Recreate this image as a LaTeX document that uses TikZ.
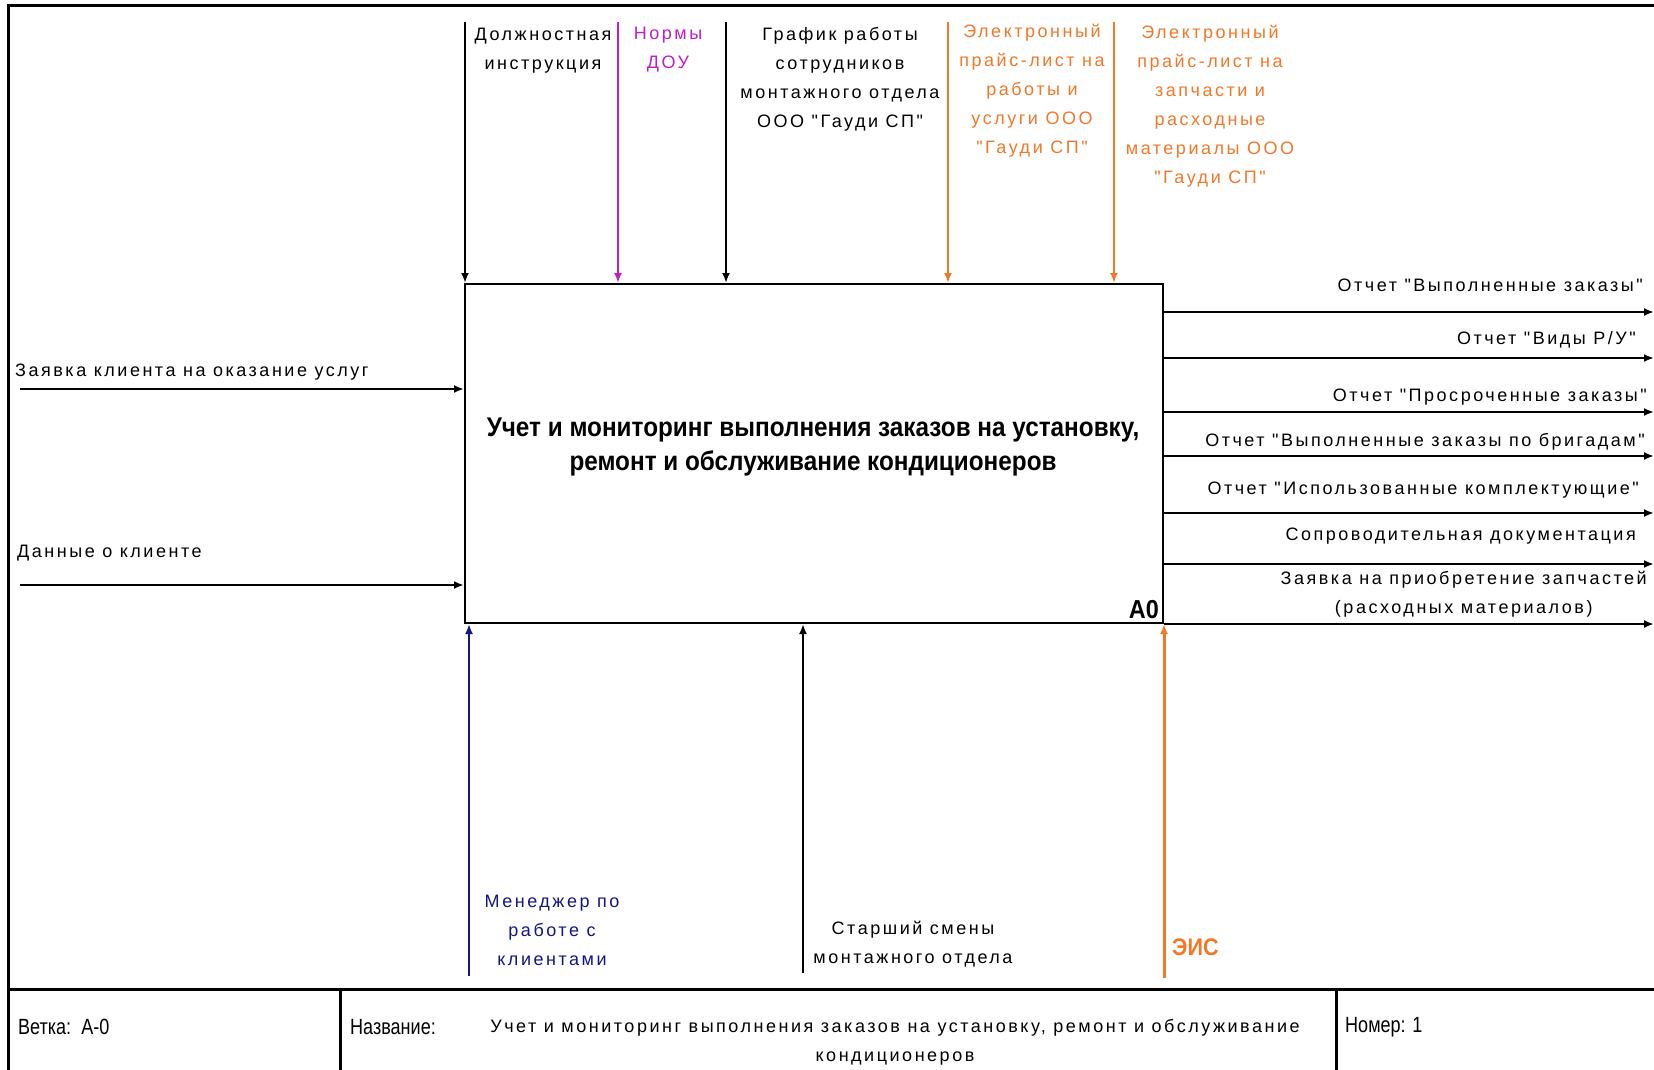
\documentclass[tikz,border=0pt]{standalone}
\usepackage{fontspec}
\setmainfont{Liberation Sans}
\newfontfamily\lblfont[LetterSpace=14]{Liberation Sans}
\newfontfamily\narrowfont[FakeStretch=0.82]{Liberation Sans}
\newfontfamily\ttlfont[FakeStretch=0.9]{Liberation Sans}
\usetikzlibrary{arrows.meta}

\definecolor{idefora}{RGB}{240,120,40}
\definecolor{idefmag}{RGB}{190,30,200}
\definecolor{idefnavy}{RGB}{20,20,130}

\tikzset{
  lbl/.style={font=\lblfont\fontsize{18}{29}\selectfont, align=center, inner sep=0pt},
  narrow/.style={font=\narrowfont\fontsize{22}{24}\selectfont, inner sep=0pt},
  link/.style={line width=2pt, -{Latex[length=10pt,width=8pt]}},
  frame/.style={line width=3pt}
}

\begin{document}
\begin{tikzpicture}[x=1pt, y=-1pt]
            \useasboundingbox (0,0) rectangle (1654,1070);

            %frame
            \draw[frame] (8,1070) -- (8,6) -- (1660,6);
            \draw[frame] (8,989) -- (1660,989);
            \draw[frame] (340,989) -- (340,1070);
            \draw[frame] (1336,989) -- (1336,1070);

            %box
            \node[draw, line width=2pt, minimum width=698pt, minimum height=339pt, inner sep=0pt] (a0) at (814,453.5) {};
            \node[font=\ttlfont\bfseries\fontsize{27}{34}\selectfont, align=center, inner sep=0pt] (title) at (813,447) {Учет и мониторинг выполнения заказов на установку,\\ремонт и обслуживание кондиционеров};
            \node[font=\ttlfont\bfseries\fontsize{26}{26}\selectfont, anchor=south east, inner sep=5pt] (num) at (a0.south east) {A0};

            %controls
            \coordinate (c1) at (465,22);
            \coordinate (c2) at (618,22);
            \coordinate (c3) at (726,22);
            \coordinate (c4) at (948,22);
            \coordinate (c5) at (1114,22);
            \draw[link] (c1) -- (c1 |- a0.north);
            \draw[link, idefmag] (c2) -- (c2 |- a0.north);
            \draw[link] (c3) -- (c3 |- a0.north);
            \draw[link, idefora] (c4) -- (c4 |- a0.north);
            \draw[link, idefora] (c5) -- (c5 |- a0.north);
            \node[lbl] (c1lbl) at (543,51) {Должностная\\инструкция};
            \node[lbl, text=idefmag] (c2lbl) at (668,50) {Нормы\\ДОУ};
            \node[lbl] (c3lbl) at (840,79) {График работы\\сотрудников\\монтажного отдела\\ООО "Гауди СП"};
            \node[lbl, text=idefora] (c4lbl) at (1032,91) {Электронный\\прайс-лист на\\работы и\\услуги ООО\\"Гауди СП"};
            \node[lbl, text=idefora] (c5lbl) at (1210,106) {Электронный\\прайс-лист на\\запчасти и\\расходные\\материалы ООО\\"Гауди СП"};

            %inputs
            \coordinate (i1) at (20,389);
            \coordinate (i2) at (20,585);
            \draw[link] (i1) -- (a0.west |- i1);
            \draw[link] (i2) -- (a0.west |- i2);
            \node[lbl, anchor=west] (i1lbl) at (15,372) {Заявка клиента на оказание услуг};
            \node[lbl, anchor=west] (i2lbl) at (17,553) {Данные о клиенте};

            %outputs
            \coordinate (o1) at (1654,312);
            \coordinate (o2) at (1654,358);
            \coordinate (o3) at (1654,412);
            \coordinate (o4) at (1654,456);
            \coordinate (o5) at (1654,513);
            \coordinate (o6) at (1654,564);
            \coordinate (o7) at (1654,624);
            \draw[link] (a0.east |- o1) -- (o1);
            \draw[link] (a0.east |- o2) -- (o2);
            \draw[link] (a0.east |- o3) -- (o3);
            \draw[link] (a0.east |- o4) -- (o4);
            \draw[link] (a0.east |- o5) -- (o5);
            \draw[link] (a0.east |- o6) -- (o6);
            \draw[link] (a0.south east) -- (o7);
            \node[lbl, anchor=east] (o1lbl) at (1643,285) {Отчет "Выполненные заказы"};
            \node[lbl, anchor=east] (o2lbl) at (1636,340) {Отчет "Виды Р/У"};
            \node[lbl, anchor=east] (o3lbl) at (1647,397) {Отчет "Просроченные заказы"};
            \node[lbl, anchor=east] (o4lbl) at (1645,442) {Отчет "Выполненные заказы по бригадам"};
            \node[lbl, anchor=east] (o5lbl) at (1639,490) {Отчет "Использованные комплектующие"};
            \node[lbl, anchor=east] (o6lbl) at (1636,536) {Сопроводительная документация};
            \node[lbl, anchor=east] (o7lbl) at (1647,594) {Заявка на приобретение запчастей\\(расходных материалов)};

            %mechanisms
            \coordinate (m1) at (469,976);
            \coordinate (m2) at (803,973);
            \coordinate (m3) at (1164,978);
            \draw[link, idefnavy] (m1) -- (m1 |- a0.south);
            \draw[link] (m2) -- (m2 |- a0.south);
            \draw[link, idefora, line width=3pt] (m3) -- (m3 |- a0.south);
            \node[lbl, text=idefnavy] (m1lbl) at (552,930) {Менеджер по\\работе с\\клиентами};
            \node[lbl] (m2lbl) at (913,944) {Старший смены\\монтажного отдела};
            \node[font=\ttlfont\bfseries\fontsize{24}{24}\selectfont, text=idefora, anchor=west, inner sep=0pt] (m3lbl) at (1172,947) {ЭИС};

            %footer
            \node[narrow, anchor=west] (branch) at (18,1027) {Ветка:\ \ A-0};
            \node[narrow, anchor=west] (namelbl) at (350,1027) {Название:};
            \node[lbl] (name) at (895,1042) {Учет и мониторинг выполнения заказов на установку, ремонт и обслуживание\\кондиционеров};
            \node[narrow, anchor=west] (pagenum) at (1345,1027) {Номер: 1};
\end{tikzpicture}
\end{document}
